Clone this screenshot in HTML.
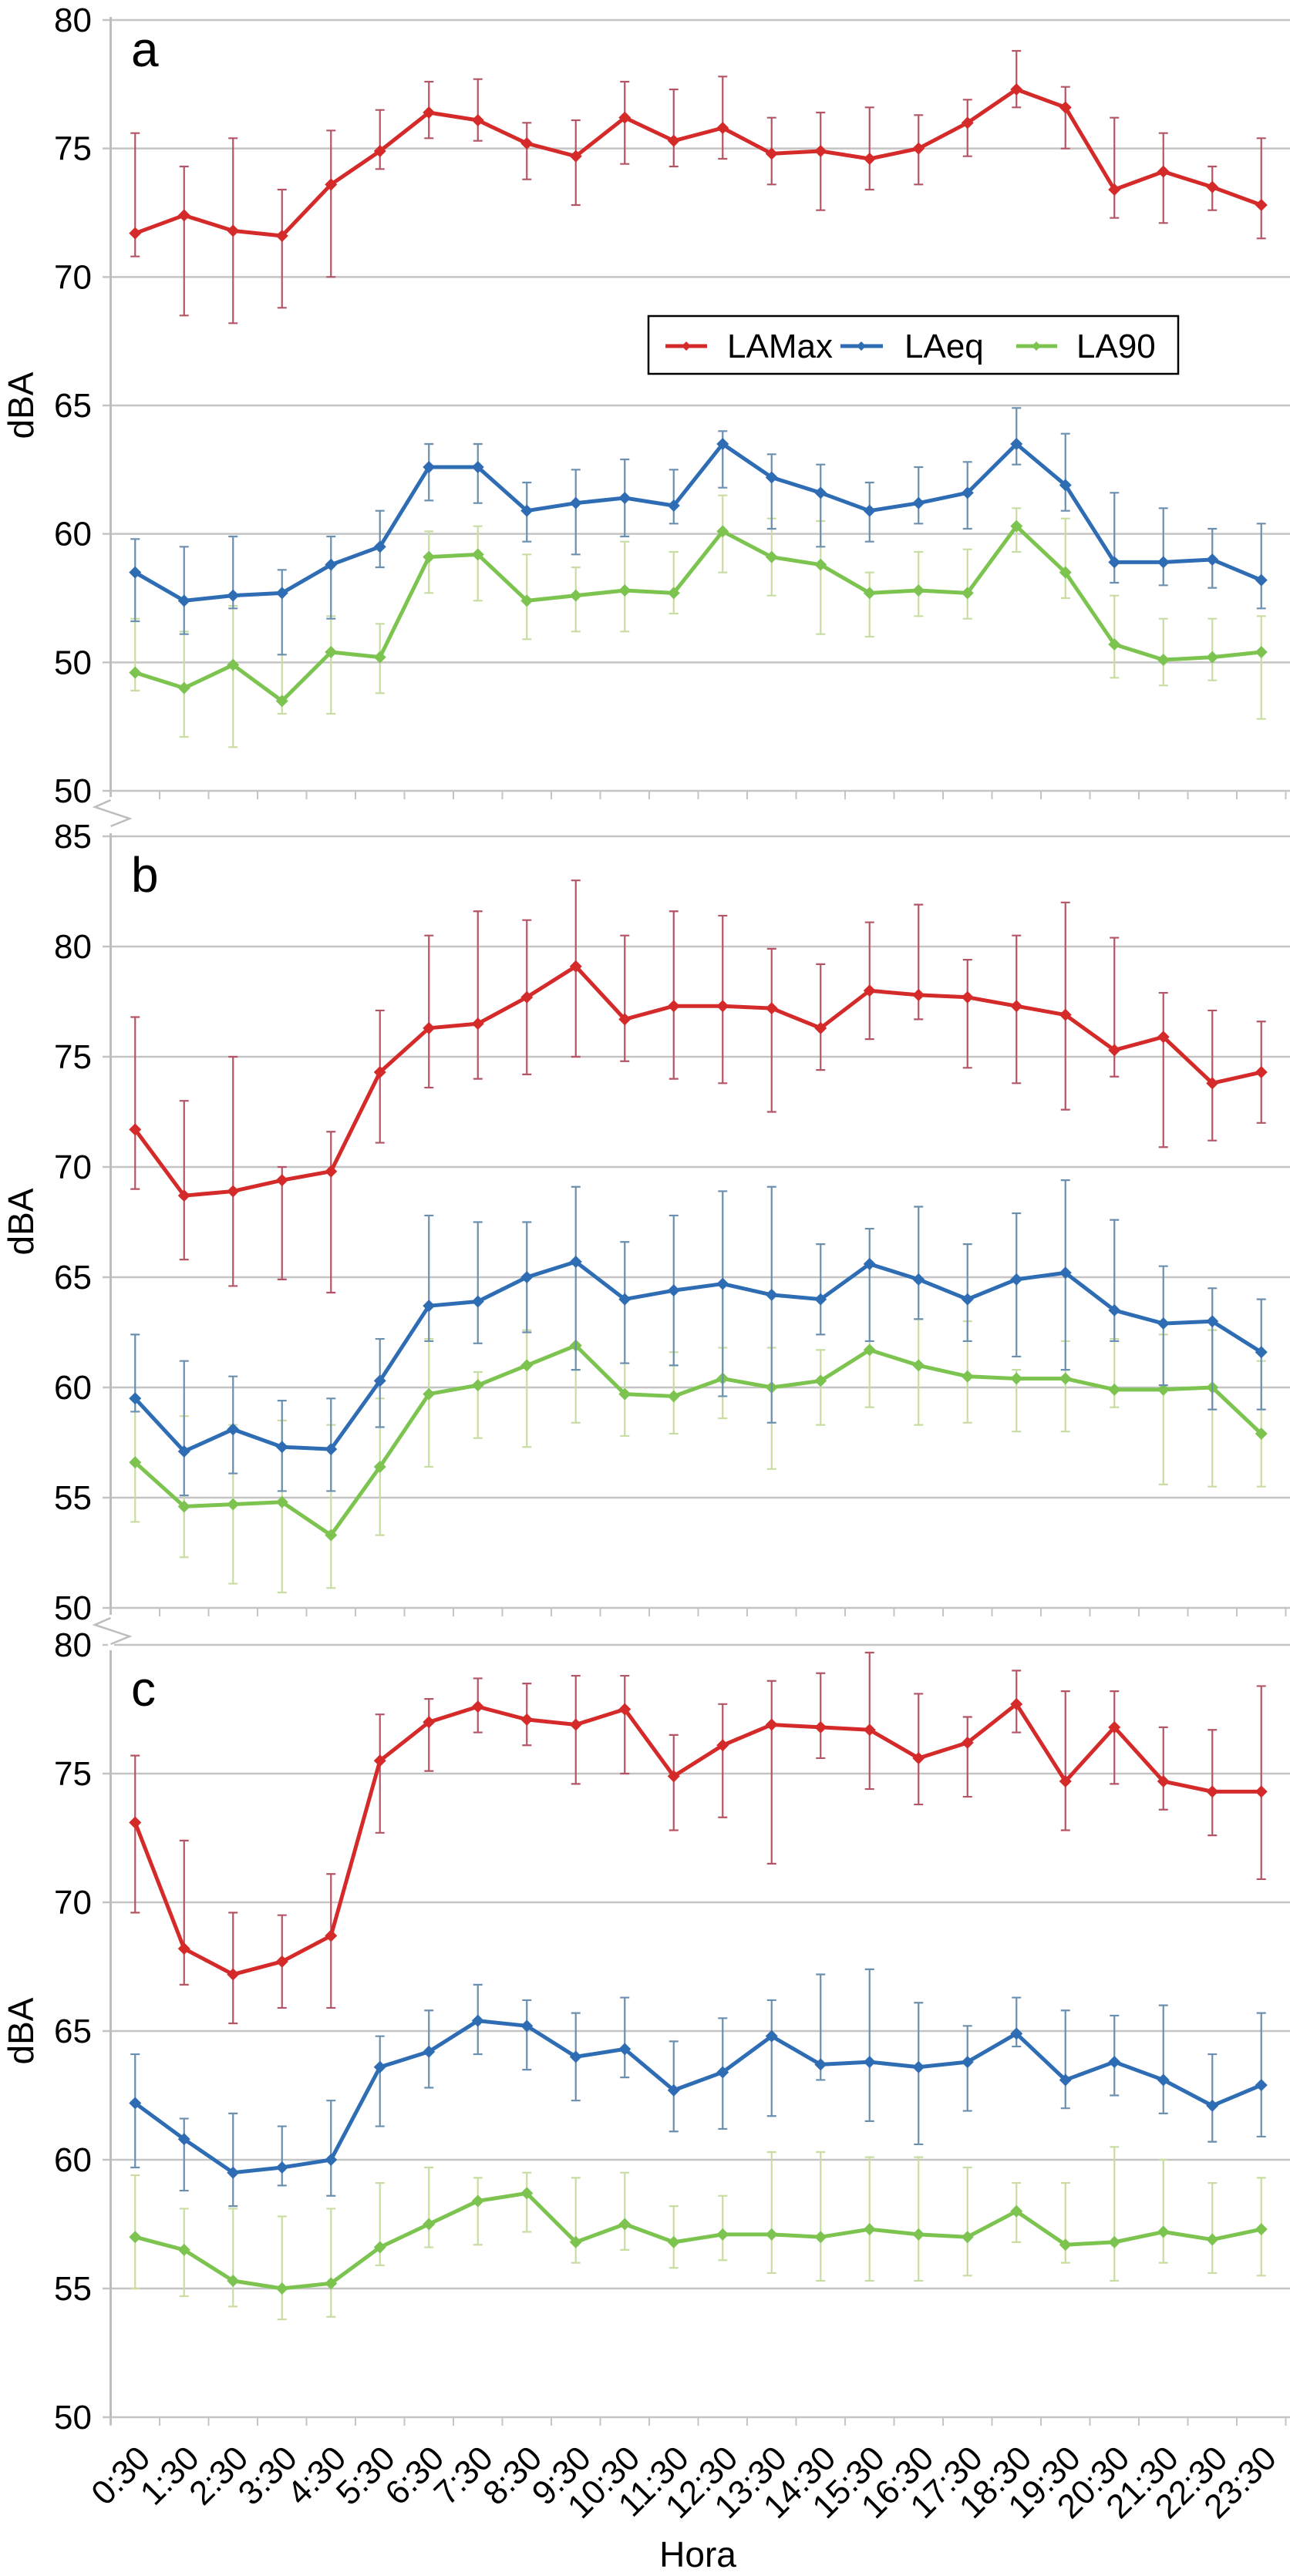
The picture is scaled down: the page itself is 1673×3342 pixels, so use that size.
<!DOCTYPE html>
<html><head><meta charset="utf-8">
<style>
html,body{margin:0;padding:0;background:#fff;}
svg{display:block;font-family:"Liberation Sans",Arial,sans-serif;}
</style></head>
<body>
<svg id="chart" width="1673" height="3342" viewBox="0 0 1673 3342" xmlns="http://www.w3.org/2000/svg">
<g id="layer"></g>
<text x="905" y="3330" font-size="46" text-anchor="middle" fill="#000">Hora</text>
<g>
  <rect x="841" y="410" width="687" height="75" fill="#fff" stroke="#000" stroke-width="2.5"/>
  <g>
    <line x1="863" y1="449" x2="917" y2="449" stroke="#d42a2a" stroke-width="5"/>
    <path d="M890 443 L896 449 L890 455 L884 449 Z" fill="#d42a2a"/>
    <text x="943" y="464" font-size="44">LAMax</text>
  </g>
  <g>
    <line x1="1090" y1="449" x2="1145" y2="449" stroke="#2e6db4" stroke-width="5"/>
    <path d="M1117 443 L1123 449 L1117 455 L1111 449 Z" fill="#2e6db4"/>
    <text x="1173" y="464" font-size="44">LAeq</text>
  </g>
  <g>
    <line x1="1318" y1="449" x2="1371" y2="449" stroke="#7cc44f" stroke-width="5"/>
    <path d="M1344 443 L1350 449 L1344 455 L1338 449 Z" fill="#7cc44f"/>
    <text x="1396" y="464" font-size="44">LA90</text>
  </g>
</g>
</svg>
<script>
const hours = ["0:30","1:30","2:30","3:30","4:30","5:30","6:30","7:30","8:30","9:30","10:30","11:30","12:30","13:30","14:30","15:30","16:30","17:30","18:30","19:30","20:30","21:30","22:30","23:30"];

const aTickValues = [80,75,70,65,60,55,50];
const aTickLabels = ["80","75","70","65","60","50","50"];
const aMax   = [71.7,72.4,71.8,71.6,73.6,74.9,76.4,76.1,75.2,74.7,76.2,75.3,75.8,74.8,74.9,74.6,75.0,76.0,77.3,76.6,73.4,74.1,73.5,72.8];
const aMaxHi = [75.6,74.3,75.4,73.4,75.7,76.5,77.6,77.7,76.0,76.1,77.6,77.3,77.8,76.2,76.4,76.6,76.3,76.9,78.8,77.4,76.2,75.6,74.3,75.4];
const aMaxLo = [70.8,68.5,68.2,68.8,70.0,74.2,75.4,75.3,73.8,72.8,74.4,74.3,74.6,73.6,72.6,73.4,73.6,74.7,76.6,75.0,72.3,72.1,72.6,71.5];
const aEq    = [58.5,57.4,57.6,57.7,58.8,59.5,62.6,62.6,60.9,61.2,61.4,61.1,63.5,62.2,61.6,60.9,61.2,61.6,63.5,61.9,58.9,58.9,59.0,58.2];
const aEqHi  = [59.8,59.5,59.9,58.6,59.9,60.9,63.5,63.5,62.0,62.5,62.9,62.5,64.0,63.1,62.7,62.0,62.6,62.8,64.9,63.9,61.6,61.0,60.2,60.4];
const aEqLo  = [56.6,56.1,57.1,55.3,56.7,58.7,61.3,61.2,59.7,59.2,59.9,60.4,61.8,60.2,59.5,59.7,60.4,60.2,62.7,60.9,58.1,58.0,57.9,57.1];
const a90    = [54.6,54.0,54.9,53.5,55.4,55.2,59.1,59.2,57.4,57.6,57.8,57.7,60.1,59.1,58.8,57.7,57.8,57.7,60.3,58.5,55.7,55.1,55.2,55.4];
const a90Hi  = [56.7,56.2,57.2,55.3,56.8,56.5,60.1,60.3,59.2,58.7,59.7,59.3,61.5,60.6,60.5,58.5,59.3,59.4,61.0,60.6,57.6,56.7,56.7,56.8];
const a90Lo  = [53.9,52.1,51.7,53.0,53.0,53.8,57.7,57.4,55.9,56.2,56.2,56.9,58.5,57.6,56.1,56.0,56.8,56.7,59.3,57.5,54.4,54.1,54.3,52.8];

const bTickValues = [85,80,75,70,65,60,55,50];
const bTickLabels = ["85","80","75","70","65","60","55","50"];
const bMax   = [71.7,68.7,68.9,69.4,69.8,74.3,76.3,76.5,77.7,79.1,76.7,77.3,77.3,77.2,76.3,78.0,77.8,77.7,77.3,76.9,75.3,75.9,73.8,74.3];
const bMaxHi = [76.8,73.0,75.0,70.0,71.6,77.1,80.5,81.6,81.2,83.0,80.5,81.6,81.4,79.9,79.2,81.1,81.9,79.4,80.5,82.0,80.4,77.9,77.1,76.6];
const bMaxLo = [69.0,65.8,64.6,64.9,64.3,71.1,73.6,74.0,74.2,75.0,74.8,74.0,73.8,72.5,74.4,75.8,76.7,74.5,73.8,72.6,74.1,70.9,71.2,72.0];
const bEq    = [59.5,57.1,58.1,57.3,57.2,60.3,63.7,63.9,65.0,65.7,64.0,64.4,64.7,64.2,64.0,65.6,64.9,64.0,64.9,65.2,63.5,62.9,63.0,61.6];
const bEqHi  = [62.4,61.2,60.5,59.4,59.5,62.2,67.8,67.5,67.5,69.1,66.6,67.8,68.9,69.1,66.5,67.2,68.2,66.5,67.9,69.4,67.6,65.5,64.5,64.0];
const bEqLo  = [58.9,55.1,56.1,55.3,55.3,58.2,62.1,62.0,62.5,60.8,61.1,61.0,59.6,58.4,62.4,62.1,63.1,62.1,61.4,60.8,62.1,60.1,59.0,59.0];
const b90    = [56.6,54.6,54.7,54.8,53.3,56.4,59.7,60.1,61.0,61.9,59.7,59.6,60.4,60.0,60.3,61.7,61.0,60.5,60.4,60.4,59.9,59.9,60.0,57.9];
const b90Hi  = [58.9,58.7,58.3,58.5,58.3,59.5,62.2,60.7,62.6,60.8,61.1,61.6,61.8,61.8,61.7,62.1,63.1,63.0,60.8,62.1,62.2,62.4,62.6,61.2];
const b90Lo  = [53.9,52.3,51.1,50.7,50.9,53.3,56.4,57.7,57.3,58.4,57.8,57.9,58.6,56.3,58.3,59.1,58.3,58.4,58.0,58.0,59.1,55.6,55.5,55.5];

const cTickValues = [80,75,70,65,60,55,50];
const cTickLabels = ["80","75","70","65","60","55","50"];
const cMax   = [73.1,68.2,67.2,67.7,68.7,75.5,77.0,77.6,77.1,76.9,77.5,74.9,76.1,76.9,76.8,76.7,75.6,76.2,77.7,74.7,76.8,74.7,74.3,74.3];
const cMaxHi = [75.7,72.4,69.6,69.5,71.1,77.3,77.9,78.7,78.5,78.8,78.8,76.5,77.7,78.6,78.9,79.7,78.1,77.2,79.0,78.2,78.2,76.8,76.7,78.4];
const cMaxLo = [69.6,66.8,65.3,65.9,65.9,72.7,75.1,76.6,76.1,74.6,75.0,72.8,73.3,71.5,75.6,74.4,73.8,74.1,76.6,72.8,74.6,73.6,72.6,70.9];
const cEq    = [62.2,60.8,59.5,59.7,60.0,63.6,64.2,65.4,65.2,64.0,64.3,62.7,63.4,64.8,63.7,63.8,63.6,63.8,64.9,63.1,63.8,63.1,62.1,62.9];
const cEqHi  = [64.1,61.6,61.8,61.3,62.3,64.8,65.8,66.8,66.2,65.7,66.3,64.6,65.5,66.2,67.2,67.4,66.1,65.2,66.3,65.8,65.6,66.0,64.1,65.7];
const cEqLo  = [59.7,58.8,58.2,59.0,58.6,61.3,62.8,64.1,63.5,62.3,63.2,61.1,61.2,61.7,63.1,61.5,60.6,61.9,64.4,62.0,62.5,61.8,60.7,60.9];
const c90    = [57.0,56.5,55.3,55.0,55.2,56.6,57.5,58.4,58.7,56.8,57.5,56.8,57.1,57.1,57.0,57.3,57.1,57.0,58.0,56.7,56.8,57.2,56.9,57.3];
const c90Hi  = [59.4,58.1,58.1,57.8,58.1,59.1,59.7,59.3,59.5,59.3,59.5,58.2,58.6,60.3,60.3,60.1,60.1,59.7,59.1,59.1,60.5,60.0,59.1,59.3];
const c90Lo  = [55.0,54.7,54.3,53.8,53.9,55.9,56.6,56.7,57.2,56.0,56.5,55.8,56.1,55.6,55.3,55.3,55.3,55.5,56.8,56.0,55.3,56.0,55.6,55.5];

const SVGNS = "http://www.w3.org/2000/svg";
const layer = document.getElementById('layer');
const AX_LEFT = 143.5, CAT_W = 63.5, RIGHT = 1673;
function xPos(i){ return AX_LEFT + (i + 0.5) * CAT_W; }
function mk(tag, attrs, parent){
  const e = document.createElementNS(SVGNS, tag);
  for (const k in attrs) e.setAttribute(k, attrs[k]);
  (parent || layer).appendChild(e);
  return e;
}

const panels = [
  {id:'a', top:26, bottom:1026, vmax:80, vmin:50, ticks:aTickValues, labels:aTickLabels, letterY:86, dbaY:526,
   series:[[aMax,aMaxHi,aMaxLo,'#d42a2a','#b35565'],[aEq,aEqHi,aEqLo,'#2e6db4','#6b8fae'],[a90,a90Hi,a90Lo,'#7cc44f','#c9dca2']]},
  {id:'b', top:1085, bottom:2086, vmax:85, vmin:50, ticks:bTickValues, labels:bTickLabels, letterY:1157, dbaY:1585,
   series:[[bMax,bMaxHi,bMaxLo,'#d42a2a','#b35565'],[bEq,bEqHi,bEqLo,'#2e6db4','#6b8fae'],[b90,b90Hi,b90Lo,'#7cc44f','#c9dca2']]},
  {id:'c', top:2134, bottom:3136, vmax:80, vmin:50, ticks:cTickValues, labels:cTickLabels, letterY:2213, dbaY:2635,
   series:[[cMax,cMaxHi,cMaxLo,'#d42a2a','#b35565'],[cEq,cEqHi,cEqLo,'#2e6db4','#6b8fae'],[c90,c90Hi,c90Lo,'#7cc44f','#c9dca2']]}
];
const seriesNames = ['lamax','laeq','la90'];

panels.forEach(function(p){
  const g = mk('g', {});
  
  
  function yPos(v){ return p.top + (p.vmax - v) / (p.vmax - p.vmin) * (p.bottom - p.top); }
  // gridlines & tick labels
  p.ticks.forEach(function(v, k){
    const y = yPos(v);
    const gl = mk('line', {x1:133, y1:y, x2:RIGHT, y2:y, stroke:'#c4c4c4', 'stroke-width':2.5}, g);
    
    
    const t = mk('text', {x:119, y:y + 15, 'font-size':44, 'text-anchor':'end', fill:'#000'}, g);
    
    
    t.textContent = p.labels[k];
  });
  // axis line
  const ax = mk('line', {x1:AX_LEFT, y1:p.top - 4, x2:AX_LEFT, y2:p.bottom + 10, stroke:'#bdbdbd', 'stroke-width':3}, g);
  
  
  // category ticks
  for (let i = 0; i <= hours.length; i++){
    const x = AX_LEFT + i * CAT_W;
    const tk = mk('line', {x1:x, y1:p.bottom, x2:x, y2:p.bottom + 11, stroke:'#c4c4c4', 'stroke-width':2}, g);
    
    
  }
  // panel letter
  const L = mk('text', {x:170, y:p.letterY, 'font-size':64, fill:'#000'}, g);
  
  
  L.textContent = p.id;
  // dBA
  const d = mk('text', {x:0, y:0, 'font-size':46, 'text-anchor':'middle', fill:'#000', transform:'translate(43,' + p.dbaY + ') rotate(-90)'}, g);
  
  
  d.textContent = 'dBA';
  // series: error bars first (light), then lines
  p.series.slice().reverse().forEach(function(s, ri){
    const si = 2 - ri;
    const vals = s[0], hi = s[1], lo = s[2];
    const sg = mk('g', {}, g);
    
    
    vals.forEach(function(v, i){
      const x = xPos(i), yh = yPos(hi[i]), yl = yPos(lo[i]);
      const eb = mk('path', {d:'M' + x + ' ' + yh + 'V' + yl + 'M' + (x - 6) + ' ' + yh + 'H' + (x + 6) + 'M' + (x - 6) + ' ' + yl + 'H' + (x + 6), stroke:s[4], 'stroke-width':2.2, fill:'none'}, sg);
      
      
    });
    const pts = vals.map(function(v, i){ return xPos(i) + ',' + yPos(v); }).join(' ');
    const pl = mk('polyline', {points:pts, fill:'none', stroke:s[3], 'stroke-width':5, 'stroke-linejoin':'round'}, sg);
    
    
    vals.forEach(function(v, i){
      const x = xPos(i), y = yPos(v);
      const m = mk('path', {d:'M' + x + ' ' + (y - 8) + 'L' + (x + 8) + ' ' + y + 'L' + x + ' ' + (y + 8) + 'L' + (x - 8) + ' ' + y + 'Z', fill:s[3]}, sg);
      
      
    });
  });
});

// axis breaks
[1026, 2087].forEach(function(yb){
  const br = mk('g', {});
  
  
  mk('rect', {x:140, y:yb + 8, width:8, height:46, fill:'#fff'}, br);
  mk('polyline', {points:'143.5,' + (yb + 12) + ' 123,' + (yb + 21) + ' 168,' + (yb + 36) + ' 143.5,' + (yb + 46), fill:'none', stroke:'#bdbdbd', 'stroke-width':2.5}, br);
});

// x tick labels
const xg = mk('g', {});


hours.forEach(function(h, i){
  const x = xPos(i) + 22, y = 3192;
  const t = mk('text', {x:0, y:0, 'font-size':44, 'text-anchor':'end', fill:'#000', transform:'translate(' + x + ',' + y + ') rotate(-45)'}, xg);
  
  
  t.textContent = h;
});
</script>
</body></html>
